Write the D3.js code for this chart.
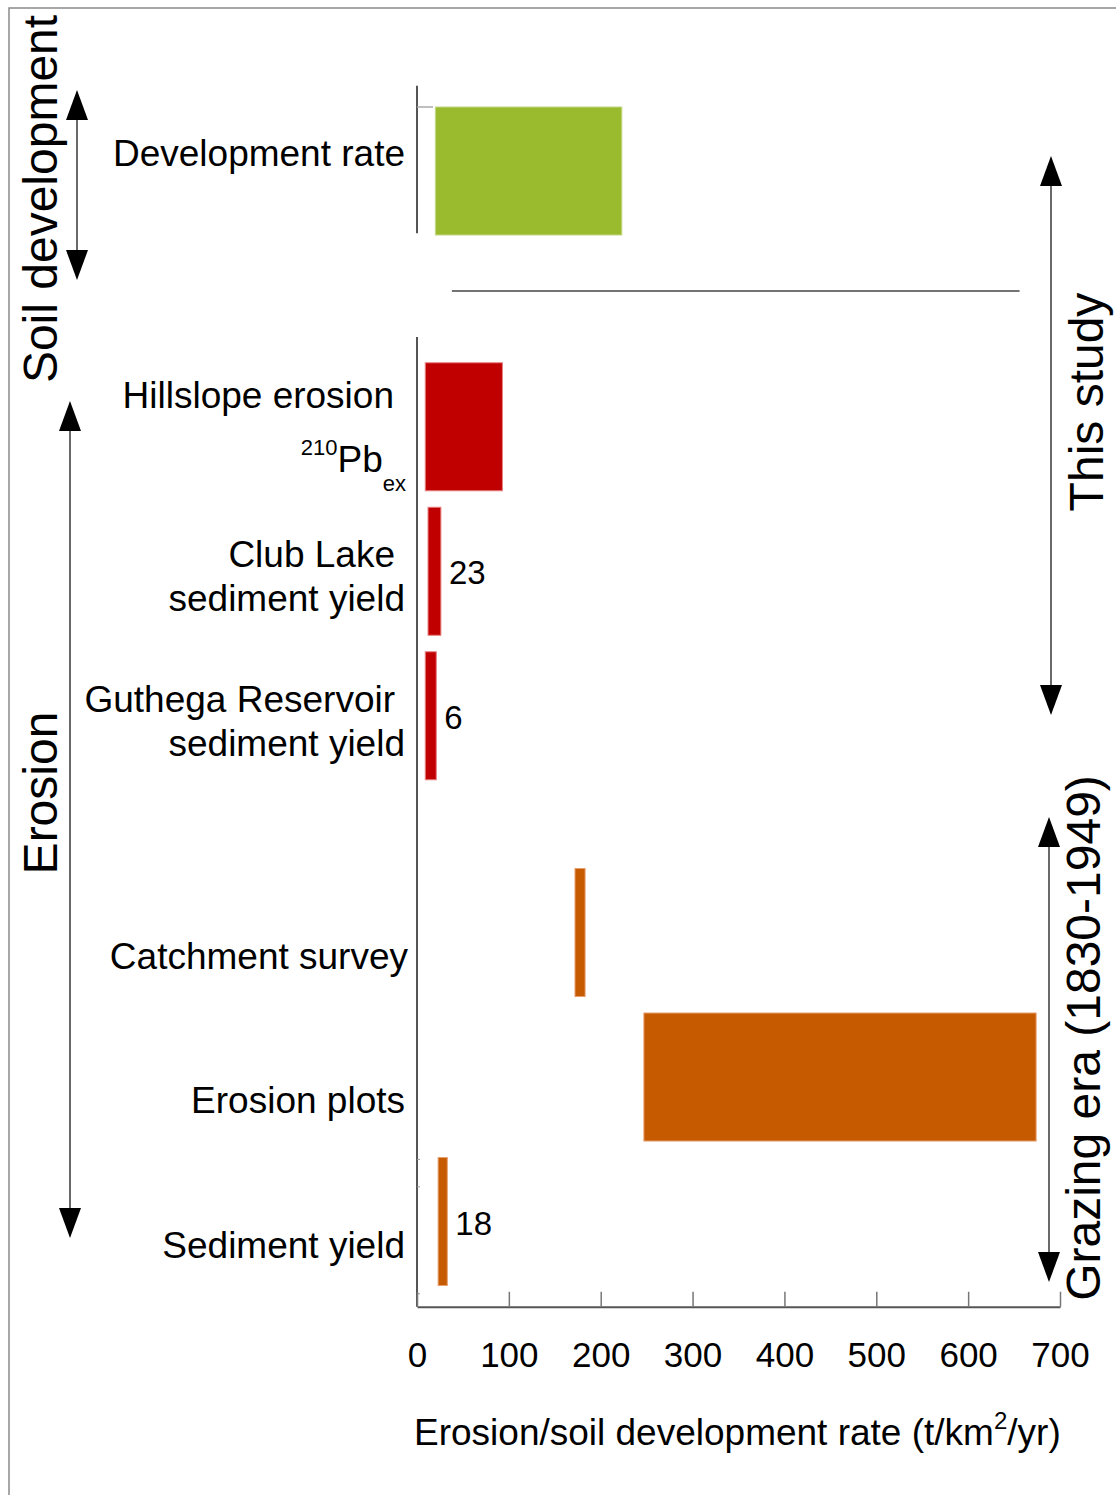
<!DOCTYPE html>
<html>
<head>
<meta charset="utf-8">
<script src="https://cdn.jsdelivr.net/npm/d3@7"></script>
<style>
  html, body { margin: 0; padding: 0; background: #fff; }
  svg { display: block; font-family: "Liberation Sans", Arial, sans-serif; }
</style>
</head>
<body>
<svg id="chart" width="1116" height="1495"></svg>
<script>
// Rows of the chart, top to bottom
const categories = [
  "Development rate", "Hillslope erosion", "Club Lake sediment yield",
  "Guthega Reservoir sediment yield", "Catchment survey", "Erosion plots", "Sediment yield"
];
const categoryLines = [
  ["Development rate"], ["Hillslope erosion"], ["Club Lake", "sediment yield"],
  ["Guthega Reservoir", "sediment yield"], ["Catchment survey"], ["Erosion plots"], ["Sediment yield"]
];
const groups = ["soil", "study", "study", "study", "grazing", "grazing", "grazing"];
// Range of each rate (t/km²/yr)
const lowValues  = [20, 9, 12, 9, 172, 247, 23];
const highValues = [223, 93, 26, 21, 183, 674, 33];
const valueLabels = [null, null, "23", "6", null, null, "18"];
const xTicks = [0, 100, 200, 300, 400, 500, 600, 700];

const groupColor = { soil: "#9abb2e", study: "#c00000", grazing: "#c55a00" };
const groupEdge  = { soil: "#c4d98a", study: "#e88080", grazing: "#e8a070" };
const groupGap   = { soil: 0, study: 0.77, grazing: 0.5 };

// Row slots: one unit per row plus extra space where a new group starts
const rows = categories.map((c, i) => ({
  name: c, lines: categoryLines[i], group: groups[i],
  lo: lowValues[i], hi: highValues[i], label: valueLabels[i]
}));
let acc = 0, prev = null;
rows.forEach((r, i) => {
  if (r.group !== prev) { acc += groupGap[r.group]; prev = r.group; }
  r.slot = i + acc;
});

const svg = d3.select("#chart");
const x = d3.scaleLinear().domain([0, 700]).range([417, 1060]);
const y = d3.scaleLinear().domain([0, 1]).range([171, 315.5]);
const barH = y(0.886) - y(0);

const ink = "#000";
const axisGrey = "#555";

// Outer frame
svg.append("path")
  .attr("d", "M9,1495 V8 H1116")
  .attr("fill", "none").attr("stroke", "#8a8a8a").attr("stroke-width", 1.5);

// Panel axes
svg.append("line").attr("x1", x(0)).attr("x2", x(0))
  .attr("y1", y(-0.59)).attr("y2", y(0.43))
  .attr("stroke", axisGrey).attr("stroke-width", 2);
svg.append("line").attr("x1", x(0)).attr("x2", x(0) + 16)
  .attr("y1", y(-0.443)).attr("y2", y(-0.443))
  .attr("stroke", "#aaa").attr("stroke-width", 1.5);

svg.append("line").attr("x1", x(0)).attr("x2", x(0))
  .attr("y1", y(1.149)).attr("y2", y(7.86))
  .attr("stroke", axisGrey).attr("stroke-width", 2);
[6.84, 7.03, 7.77].forEach(s => {
  svg.append("line").attr("x1", x(0)).attr("x2", x(0) + 3)
    .attr("y1", y(s)).attr("y2", y(s))
    .attr("stroke", "#999").attr("stroke-width", 1);
});

// Divider between panels
svg.append("line").attr("x1", x(38)).attr("x2", x(656))
  .attr("y1", y(0.83)).attr("y2", y(0.83))
  .attr("stroke", "#444").attr("stroke-width", 1.5);

// X axis
const xAxis = d3.axisBottom(x).tickValues(xTicks)
  .tickSizeInner(-15).tickSizeOuter(0).tickPadding(35);
const gx = svg.append("g").attr("transform", `translate(0,${y(7.86)})`).call(xAxis);
gx.select(".domain").attr("stroke", axisGrey).attr("stroke-width", 2);
gx.selectAll(".tick line").attr("stroke", "#777").attr("stroke-width", 1.5);
gx.selectAll(".tick text").attr("font-size", 35).attr("fill", ink)
  .attr("font-family", "Liberation Sans, Arial, sans-serif");

// Axis title
const title = svg.append("text").attr("x", 414).attr("y", 1445)
  .attr("font-size", 37).attr("fill", ink);
title.append("tspan").text("Erosion/soil development rate (t/km");
title.append("tspan").text("2").attr("font-size", 24).attr("dy", -16);
title.append("tspan").text("/yr)").attr("dy", 16);

// Bars
svg.append("g").selectAll("rect").data(rows).join("rect")
  .attr("x", d => x(d.lo))
  .attr("width", d => x(d.hi) - x(d.lo))
  .attr("y", d => y(d.slot) - barH / 2)
  .attr("height", barH)
  .attr("fill", d => groupColor[d.group])
  .attr("stroke", d => groupEdge[d.group])
  .attr("stroke-width", 1);

// Value labels beside the narrow bars
svg.append("g").selectAll("text").data(rows.filter(d => d.label)).join("text")
  .attr("x", d => x(d.hi) + 8)
  .attr("y", d => y(d.slot) + 13)
  .attr("font-size", 33).attr("fill", ink)
  .text(d => d.label);

// Category labels
const labelOffset = { soil: -5, study: -4, grazing: 36 };
const lab = svg.append("g").attr("font-size", 37).attr("fill", ink).attr("text-anchor", "end");
rows.forEach(r => {
  if (r.name === "Hillslope erosion") {
    lab.append("text").attr("x", 394).attr("y", y(r.slot) - 19).text(r.lines[0]);
    const t = lab.append("text").attr("x", 406).attr("y", y(r.slot) + 45);
    t.append("tspan").text("210").attr("font-size", 22).attr("dy", -17);
    t.append("tspan").text("Pb").attr("dy", 17);
    t.append("tspan").text("ex").attr("font-size", 22).attr("dy", 19);
    return;
  }
  const base = y(r.slot) + labelOffset[r.group];
  r.lines.forEach((ln, j) => {
    lab.append("text")
      .attr("x", j === 0 && r.lines.length > 1 ? 395 : (r.name === "Catchment survey" ? 408 : 405))
      .attr("y", base + j * 44)
      .text(ln);
  });
});

// Double-headed arrows with rotated side titles
function arrow(cx, yTop, yBot) {
  const g = svg.append("g");
  const head = 30, half = 11;
  g.append("line").attr("x1", cx).attr("x2", cx)
    .attr("y1", yTop + head - 2).attr("y2", yBot - head + 2)
    .attr("stroke", "#444").attr("stroke-width", 1.6);
  g.append("path").attr("d", `M${cx},${yTop} L${cx - half},${yTop + head} L${cx + half},${yTop + head}Z`).attr("fill", ink);
  g.append("path").attr("d", `M${cx},${yBot} L${cx - half},${yBot - head} L${cx + half},${yBot - head}Z`).attr("fill", ink);
}
function sideTitle(text, xb, yc) {
  svg.append("text")
    .attr("transform", `translate(${xb},${yc}) rotate(-90)`)
    .attr("text-anchor", "middle")
    .attr("font-size", 48).attr("fill", ink)
    .text(text);
}

arrow(77, 90, 280);
arrow(70, 401, 1238);
arrow(1051, 156, 715);
arrow(1049, 817, 1282);

sideTitle("Soil development", 57, 199);
sideTitle("Erosion", 57, 793);
sideTitle("This study", 1103, 402);
sideTitle("Grazing era (1830-1949)", 1100, 1038);
</script>
</body>
</html>
